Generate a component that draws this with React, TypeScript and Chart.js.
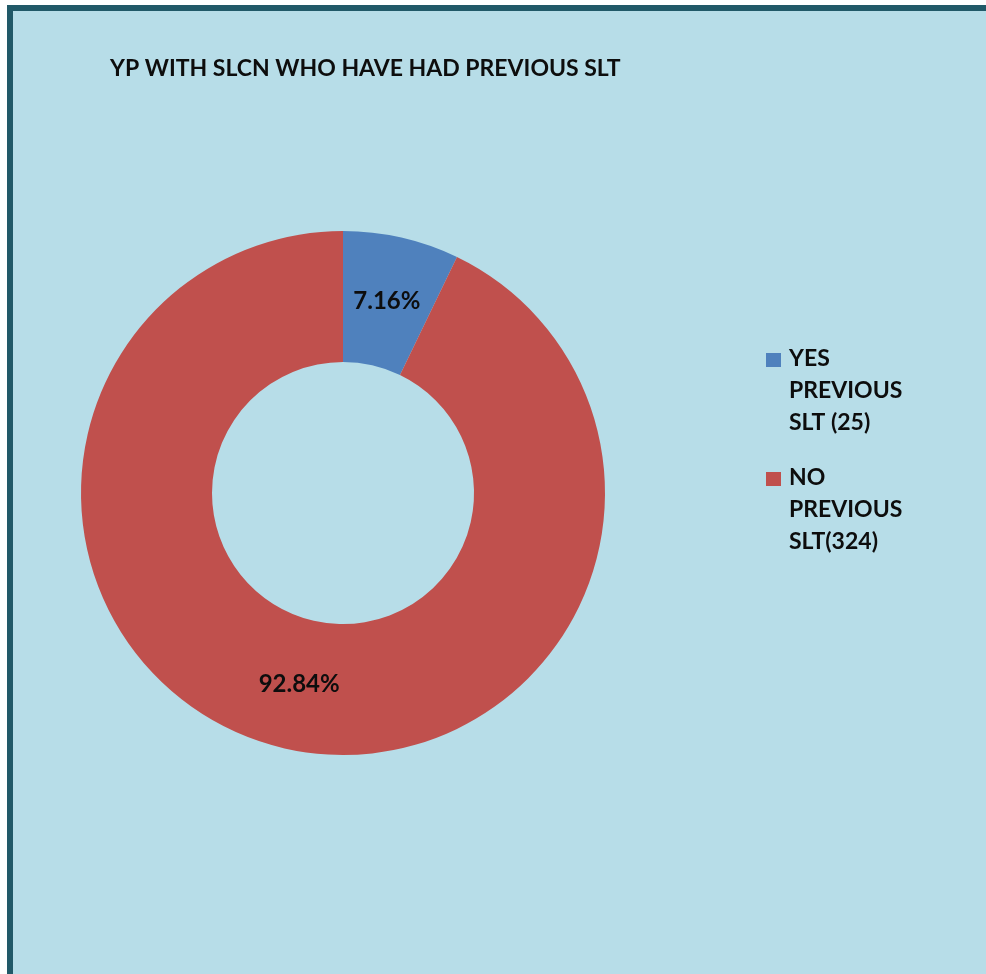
import React, { useEffect, useRef } from "react";
import { Chart, registerables } from "chart.js";

Chart.register(...registerables);

const titleText = "YP WITH SLCN WHO HAVE HAD PREVIOUS SLT";
const categories = ["YES PREVIOUS SLT (25)", "NO PREVIOUS SLT(324)"];
const legendLines = [
  ["YES", "PREVIOUS", "SLT (25)"],
  ["NO", "PREVIOUS", "SLT(324)"],
];
const counts = [25, 324];
const percentLabels = ["7.16%", "92.84%"];
const colors = ["#4f81bd", "#c0504d"];

const FONT = "Lato, 'Open Sans', sans-serif";
const FONT_SIZE = 23;
const LABEL_SIZE = 24;
const TEXT_COLOR = "#0d0d0d";

const overlayPlugin = {
  id: "overlay",
  afterDatasetsDraw(chart: any) {
    const ctx = chart.ctx as CanvasRenderingContext2D;
    ctx.save();
    ctx.font = `bold ${FONT_SIZE}px ${FONT}`;
    ctx.fillStyle = TEXT_COLOR;
    // title
    ctx.textAlign = "left";
    ctx.textBaseline = "alphabetic";
    ctx.fillText(titleText, 97, 65);
    // data labels
    const meta = chart.getDatasetMeta(0);
    ctx.font = `bold ${LABEL_SIZE}px ${FONT}`;
    ctx.textAlign = "center";
    ctx.textBaseline = "middle";
    meta.data.forEach((arc: any, i: number) => {
      const p = arc.tooltipPosition();
      ctx.fillText(percentLabels[i], p.x, p.y);
    });
    // legend
    ctx.font = `bold ${FONT_SIZE}px ${FONT}`;
    ctx.textAlign = "left";
    ctx.textBaseline = "alphabetic";
    const bases = [355, 474];
    legendLines.forEach((lines, i) => {
      const by = bases[i];
      ctx.fillStyle = colors[i];
      ctx.fillRect(753, by - 13, 15, 14);
      ctx.fillStyle = TEXT_COLOR;
      lines.forEach((ln, j) => {
        ctx.fillText(ln, 776, by + j * 32);
      });
    });
    ctx.restore();
  },
};

export default function App() {
  const ref = useRef<HTMLCanvasElement>(null);
  useEffect(() => {
    document.body.style.margin = "0";
    const chart = new Chart(ref.current!, {
      type: "doughnut",
      data: {
        labels: categories,
        datasets: [
          {
            data: counts,
            backgroundColor: colors,
            borderWidth: 0,
          },
        ],
      },
      options: {
        animation: false,
        responsive: false,
        cutout: "50%",
        layout: { padding: { left: 68, right: 381, top: 220, bottom: 219 } },
        plugins: {
          legend: { display: false },
          title: { display: false },
          tooltip: { enabled: false },
        },
      },
      plugins: [overlayPlugin],
    });
    return () => chart.destroy();
  }, []);
  return (
    <div style={{ position: "absolute", left: 0, top: 0, width: 986, height: 974, background: "#ffffff", overflow: "hidden" }}>
      <div
        style={{
          position: "absolute",
          left: 7,
          top: 5,
          width: 986 - 7,
          height: 974 - 5,
          boxSizing: "border-box",
          borderLeft: "6px solid #215968",
          borderTop: "6px solid #215968",
          background: "#b7dde8",
        }}
      >
        <canvas ref={ref} width={973} height={963} style={{ display: "block" }} />
      </div>
    </div>
  );
}
